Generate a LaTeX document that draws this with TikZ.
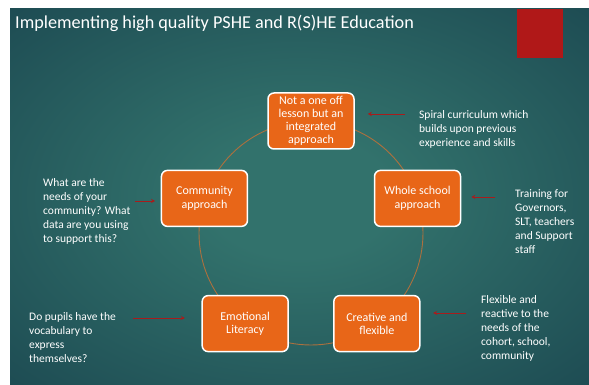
\documentclass[tikz,border=0pt]{standalone}
\usepackage{fontspec}
\setmainfont{Carlito}
\usetikzlibrary{arrows.meta,positioning,calc}
\definecolor{slidein}{RGB}{50,114,108}
\definecolor{slideout}{RGB}{19,56,70}
\definecolor{boxorange}{RGB}{232,102,24}
\definecolor{ringbrown}{RGB}{172,112,62}
\definecolor{tipred}{RGB}{168,28,28}
\definecolor{tabred}{RGB}{176,24,24}
\pgfdeclareradialshading{slidebg}{\pgfpoint{0bp}{0bp}}{color(0bp)=(slidein); color(8bp)=(slidein); color(50bp)=(slideout); color(100bp)=(slideout)}

\begin{document}
\begin{tikzpicture}[x=1pt,y=1pt,
  font=\fontsize{11.5}{14}\selectfont, >={Stealth[length=4pt,width=4pt]},
  stage/.style={draw=white,line width=1.5pt,rounded corners=6pt,fill=boxorange,text=white,
    minimum width=86pt,minimum height=56pt,align=center,inner sep=2pt,font=\fontsize{12}{13.2}\selectfont},
  note/.style={text=white,align=left,anchor=base west,inner sep=0pt},
  pointer/.style={->,draw=tipred,line width=0.8pt}]
% slide
\useasboundingbox (0,0) rectangle (589,385);
\fill[white] (0,0) rectangle (589,385);
\shade[shading=slidebg] (10,0) rectangle (589,376);
\fill[tabred] (517,327) rectangle (563,376);
\node[text=white,anchor=base west,inner sep=0pt,font=\fontsize{18.2}{22}\selectfont] (title) at (15,356) {Implementing high quality PSHE and R(S)HE Education};
% ring of stages
\coordinate (hub) at (311,152);
\draw[ringbrown,line width=0.9pt] (hub) circle[radius=112];
\node[stage] (lesson) at ($(hub)+(90:112)$) {Not a one off\\lesson but an\\integrated\\approach};
\node[stage] (whole) at ($(hub)+(18:112)$) {Whole school\\approach};
\node[stage] (creative) at ($(hub)+(-54:112)$) {Creative and\\flexible};
\node[stage] (emotion) at ($(hub)+(-126:112)$) {Emotional\\Literacy};
\node[stage] (community) at ($(hub)+(162:112)$) {Community\\approach};
% notes (placed by the baseline of their last line)
\node[note] (spiral) at (419,238) {Spiral curriculum which\\builds upon previous\\experience and skills};
\node[note] (training) at (515,131.5) {Training for\\Governors,\\SLT, teachers\\and Support\\staff};
\node[note] (reactive) at (481,25) {Flexible and\\reactive to the\\needs of the\\cohort, school,\\community};
\node[note] (needs) at (43,142.3) {What are the\\needs of your\\community? What\\data are you using\\to support this?};
\node[note] (vocab) at (29,22.3) {Do pupils have the\\vocabulary to\\express\\themselves?};
% pointers
\coordinate (t1) at (405,271);
\coordinate (t2) at (495,188);
\coordinate (t3) at (466,72);
\coordinate (t4) at (133,67);
\coordinate (t5) at (135,184);
\foreach \t/\b/\g in {t1/lesson.east/13,t2/whole.east/10,t3/creative.east/12.5,t4/emotion.west/16.5,t5/community.west/5.7}
  \draw[pointer,shorten >=\g pt] (\t) -- (\t -| \b);
\end{tikzpicture}
\end{document}
